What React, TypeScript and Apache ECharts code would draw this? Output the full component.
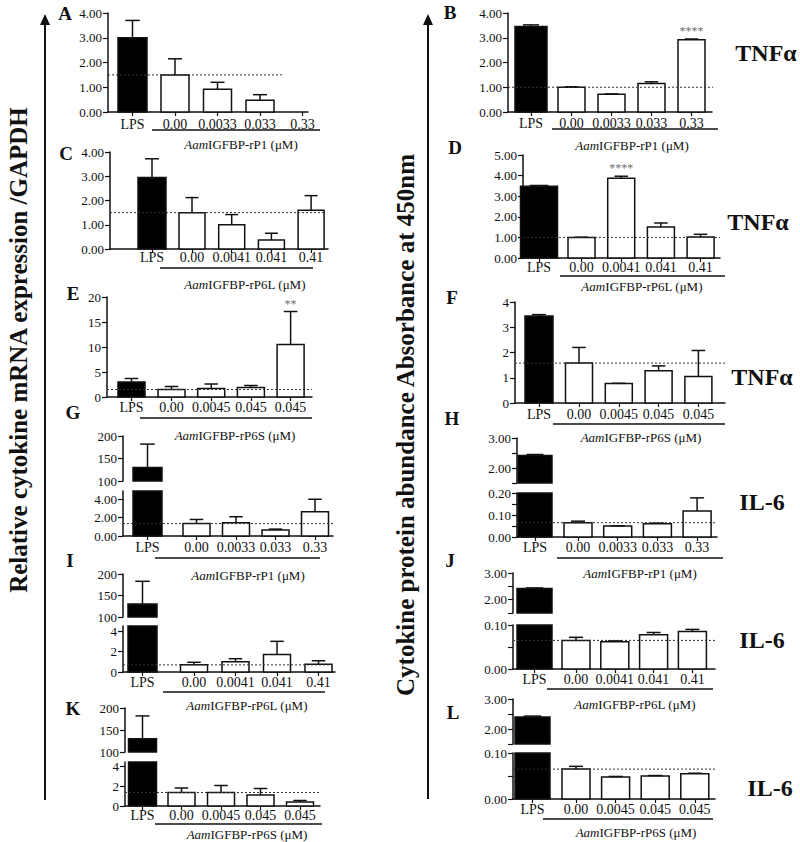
import React, { useEffect, useRef } from "react";
import * as echarts from "echarts";

// ---------- categories ----------
const catsP1 = ["LPS", "0.00", "0.0033", "0.033", "0.33"];
const catsP6L = ["LPS", "0.00", "0.0041", "0.041", "0.41"];
const catsP6S = ["LPS", "0.00", "0.0045", "0.045", "0.045"];

// ---------- means and error-bar tops ----------
const valuesA = [3.0, 1.5, 0.92, 0.47, null];
const errorsA = [3.7, 2.15, 1.2, 0.7, null];
const refA = 1.5;

const valuesB = [3.45, 1.0, 0.72, 1.15, 2.92];
const errorsB = [3.52, 1.02, 0.73, 1.22, 2.95];
const refB = 1.0;
const sigB = ["", "", "", "", "****"];

const valuesC = [2.95, 1.5, 1.0, 0.37, 1.6];
const errorsC = [3.72, 2.12, 1.42, 0.65, 2.2];
const refC = 1.5;

const valuesD = [3.48, 1.0, 3.87, 1.5, 1.02];
const errorsD = [3.52, 1.01, 3.97, 1.7, 1.15];
const refD = 1.0;
const sigD = ["", "", "****", "", ""];

const valuesE = [3.0, 1.5, 1.7, 1.9, 10.5];
const errorsE = [3.7, 2.1, 2.6, 2.3, 17.1];
const refE = 1.5;
const sigE = ["", "", "", "", "**"];

const valuesF = [3.45, 1.58, 0.77, 1.28, 1.05];
const errorsF = [3.5, 2.2, 0.78, 1.47, 2.08];
const refF = 1.58;

const valuesG = [130, 1.35, 1.45, 0.65, 2.65];
const errorsG = [182, 1.8, 2.1, 0.75, 4.0];
const refG = 1.35;

const valuesH = [2.42, 0.065, 0.05, 0.06, 0.118];
const errorsH = [2.45, 0.072, 0.051, 0.063, 0.178];
const refH = 0.065;

const valuesI = [130, 0.7, 1.0, 1.7, 0.75];
const errorsI = [183, 0.95, 1.3, 3.0, 1.1];
const refI = 0.7;

const valuesJ = [2.42, 0.065, 0.062, 0.078, 0.085];
const errorsJ = [2.44, 0.072, 0.064, 0.083, 0.09];
const refJ = 0.065;

const valuesK = [130, 1.35, 1.35, 1.1, 0.4];
const errorsK = [182, 1.8, 2.05, 1.75, 0.55];
const refK = 1.35;

const valuesL = [2.4, 0.065, 0.048, 0.05, 0.055];
const errorsL = [2.43, 0.071, 0.049, 0.051, 0.056];
const refL = 0.065;

// ---------- tick labels ----------
const ticks0to4 = [0, 1, 2, 3, 4];
const ticks0to5 = [0, 1, 2, 3, 4, 5];
const ticks0to20 = [0, 5, 10, 15, 20];
const ticksBig = [100, 150, 200];
const ticksSmall = [0, 2, 4];
const ticksIL6Top = [2, 3];
const ticksIL6TopMinor = [1.5, 2, 2.5, 3];
const ticksIL6H = [0, 0.1, 0.2];
const ticksIL6HMinor = [0, 0.05, 0.1, 0.15, 0.2];
const ticksIL6 = [0, 0.1];
const ticksIL6Minor = [0, 0.05, 0.1];

const P1 = "IGFBP-rP1";
const P6L = "IGFBP-rP6L";
const P6S = "IGFBP-rP6S";

const SERIF = '"Liberation Serif", "Times New Roman", serif';
const INK = "#111";

type Seg = { top: number; bottom: number; min: number; max: number; labels: number[]; ticks?: number[]; dec: number };
type Panel = {
  cats: string[];
  values: (number | null)[];
  errors: (number | null)[];
  ref: number;
  sig?: string[];
  axisX: number; axisR: number; lpsX: number; x1: number; step: number; barW: number; lpsW: number;
  refEnd: number;
  labelGap: number;
  segs: Seg[];
  letter: string; letterX: number; letterY: number;
  under: number[];
  title: string; titleX: number; titleY: number;
  cyto?: string; cytoX?: number; cytoY?: number;
};

const panels: Panel[] = [
  {
    cats: catsP1, values: valuesA, errors: errorsA, ref: refA,
    axisX: 108, axisR: 308, lpsX: 132.5, x1: 175, step: 42.5, barW: 28, lpsW: 29, refEnd: 282, labelGap: 5,
    segs: [{ top: 13, bottom: 112, min: 0, max: 4, labels: ticks0to4, dec: 2 }],
    letter: "A", letterX: 65, letterY: 13, under: [152, 320, 130], title: P1, titleX: 241, titleY: 144,
  },
  {
    cats: catsP1, values: valuesB, errors: errorsB, ref: refB, sig: sigB,
    axisX: 508, axisR: 712, lpsX: 531, x1: 571.5, step: 40, barW: 27, lpsW: 32, refEnd: 719, labelGap: 4,
    segs: [{ top: 13, bottom: 112, min: 0, max: 4, labels: ticks0to4, dec: 2 }],
    letter: "B", letterX: 450, letterY: 12, under: [552, 718, 129], title: P1, titleX: 632, titleY: 145,
    cyto: "TNFα", cytoX: 766, cytoY: 53,
  },
  {
    cats: catsP6L, values: valuesC, errors: errorsC, ref: refC,
    axisX: 110, axisR: 328, lpsX: 152, x1: 192, step: 39.7, barW: 26, lpsW: 28, refEnd: 326, labelGap: 1,
    segs: [{ top: 152, bottom: 249, min: 0, max: 4, labels: ticks0to4, dec: 2 }],
    letter: "C", letterX: 66, letterY: 153, under: [160, 313, 268], title: P6L, titleX: 245, titleY: 284,
  },
  {
    cats: catsP6L, values: valuesD, errors: errorsD, ref: refD, sig: sigD,
    axisX: 523, axisR: 720, lpsX: 539, x1: 581.5, step: 39.7, barW: 27, lpsW: 37, refEnd: 720, labelGap: 2,
    segs: [{ top: 155, bottom: 258, min: 0, max: 5, labels: ticks0to5, dec: 2 }],
    letter: "D", letterX: 455, letterY: 147, under: [560, 725, 276], title: P6L, titleX: 642, titleY: 286,
    cyto: "TNFα", cytoX: 758, cytoY: 222,
  },
  {
    cats: catsP6S, values: valuesE, errors: errorsE, ref: refE, sig: sigE,
    axisX: 107, axisR: 312, lpsX: 131.5, x1: 171.5, step: 39.7, barW: 27, lpsW: 27, refEnd: 312, labelGap: 3,
    segs: [{ top: 297, bottom: 397, min: 0, max: 20, labels: ticks0to20, dec: 0 }],
    letter: "E", letterX: 73, letterY: 293, under: [140, 312, 418], title: P6S, titleX: 235, titleY: 435,
  },
  {
    cats: catsP6S, values: valuesF, errors: errorsF, ref: refF,
    axisX: 515, axisR: 725, lpsX: 539, x1: 579, step: 39.8, barW: 27, lpsW: 28, refEnd: 725, labelGap: 4,
    segs: [{ top: 302, bottom: 403, min: 0, max: 4, labels: ticks0to4, dec: 0 }],
    letter: "F", letterX: 452, letterY: 297, under: [553, 725, 424], title: P6S, titleX: 641, titleY: 437,
    cyto: "TNFα", cytoX: 762, cytoY: 377,
  },
  {
    cats: catsP1, values: valuesG, errors: errorsG, ref: refG,
    axisX: 123, axisR: 333, lpsX: 147.5, x1: 196.5, step: 39.5, barW: 27, lpsW: 29, refEnd: 333, labelGap: 4,
    segs: [
      { top: 436, bottom: 481, min: 100, max: 200, labels: ticksBig, dec: 0 },
      { top: 491, bottom: 536, min: 0, max: 4.9, labels: ticksSmall, dec: 2 },
    ],
    letter: "G", letterX: 73, letterY: 412, under: [155, 320, 558], title: P1, titleX: 248, titleY: 575,
  },
  {
    cats: catsP1, values: valuesH, errors: errorsH, ref: refH,
    axisX: 517, axisR: 717, lpsX: 535, x1: 578, step: 39.7, barW: 28, lpsW: 34, refEnd: 717, labelGap: 3,
    segs: [
      { top: 438, bottom: 483, min: 1.5, max: 3, labels: ticksIL6Top, ticks: ticksIL6TopMinor, dec: 2 },
      { top: 493, bottom: 537, min: 0, max: 0.2, labels: ticksIL6H, ticks: ticksIL6HMinor, dec: 2 },
    ],
    letter: "H", letterX: 452, letterY: 418, under: [557, 723, 558], title: P1, titleX: 640, titleY: 573,
    cyto: "IL-6", cytoX: 762, cytoY: 502,
  },
  {
    cats: catsP6L, values: valuesI, errors: errorsI, ref: refI,
    axisX: 123, axisR: 335, lpsX: 142.5, x1: 194, step: 41.5, barW: 27, lpsW: 29, refEnd: 335, labelGap: 3,
    segs: [
      { top: 574, bottom: 617, min: 100, max: 200, labels: ticksBig, dec: 0 },
      { top: 626, bottom: 672, min: 0, max: 4.5, labels: ticksSmall, dec: 0 },
    ],
    letter: "I", letterX: 70, letterY: 560, under: [163, 325, 692], title: P6L, titleX: 247, titleY: 705,
  },
  {
    cats: catsP6L, values: valuesJ, errors: errorsJ, ref: refJ,
    axisX: 513, axisR: 715, lpsX: 534.5, x1: 576, step: 38.8, barW: 28, lpsW: 35, refEnd: 715, labelGap: 3,
    segs: [
      { top: 573, bottom: 613, min: 1.5, max: 3, labels: ticksIL6Top, ticks: ticksIL6TopMinor, dec: 2 },
      { top: 625, bottom: 669, min: 0, max: 0.1, labels: ticksIL6, ticks: ticksIL6Minor, dec: 2 },
    ],
    letter: "J", letterX: 450, letterY: 560, under: [547, 713, 689], title: P6L, titleX: 635, titleY: 704,
    cyto: "IL-6", cytoX: 762, cytoY: 640,
  },
  {
    cats: catsP6S, values: valuesK, errors: errorsK, ref: refK,
    axisX: 125, axisR: 320, lpsX: 142.5, x1: 181.5, step: 39.5, barW: 27, lpsW: 28, refEnd: 320, labelGap: 2,
    segs: [
      { top: 708, bottom: 752, min: 100, max: 200, labels: ticksBig, dec: 0 },
      { top: 762, bottom: 806, min: 0, max: 4.4, labels: ticksSmall, dec: 0 },
    ],
    letter: "K", letterX: 73, letterY: 708, under: [155, 322, 824], title: P6S, titleX: 247, titleY: 834,
  },
  {
    cats: catsP6S, values: valuesL, errors: errorsL, ref: refL,
    axisX: 513, axisR: 715, lpsX: 532.5, x1: 576, step: 39.6, barW: 28, lpsW: 35, refEnd: 715, labelGap: 3,
    segs: [
      { top: 699, bottom: 744, min: 1.5, max: 3, labels: ticksIL6Top, ticks: ticksIL6TopMinor, dec: 2 },
      { top: 753, bottom: 799, min: 0, max: 0.1, labels: ticksIL6, ticks: ticksIL6Minor, dec: 2 },
    ],
    letter: "L", letterX: 453, letterY: 712, under: [543, 713, 819], title: P6S, titleX: 636, titleY: 832,
    cyto: "IL-6", cytoX: 770, cytoY: 788,
  },
];

function textEl(x: number, y: number, text: string, size: number, weight: string, extra: any = {}) {
  return {
    type: "text",
    x, y,
    silent: true,
    ...extra,
    style: {
      text,
      fill: INK,
      fontSize: size,
      fontWeight: weight,
      fontFamily: SERIF,
      align: "center",
      verticalAlign: "middle",
      textAlign: "center",
      textVerticalAlign: "middle",
      ...(extra.style || {}),
    },
  };
}

function buildOption() {
  const grid: any[] = [];
  const xAxis: any[] = [];
  const yAxis: any[] = [];
  const series: any[] = [];
  const graphic: any[] = [];
  let k = 0;

  panels.forEach((p) => {
    const toX = (px: number) => 1 + (px - p.x1) / p.step;
    const xs = p.cats.map((_, i) => (i === 0 ? toX(p.lpsX) : i));
    const xmin = toX(p.axisX);
    const xmax = toX(p.axisR);
    const data = p.cats
      .map((_, i) => [xs[i], p.values[i], p.errors[i], i])
      .filter((d) => d[1] !== null && d[1] !== undefined);

    p.segs.forEach((s, si) => {
      const isBottom = si === p.segs.length - 1;
      grid.push({ left: p.axisX, top: s.top, width: p.axisR - p.axisX, height: s.bottom - s.top, containLabel: false });
      xAxis.push({
        type: "value",
        gridIndex: k,
        min: xmin,
        max: xmax,
        show: isBottom,
        axisLine: { show: true, onZero: false, lineStyle: { color: INK, width: 1.5 } },
        axisTick: { show: true, customValues: xs, length: 4, lineStyle: { color: INK, width: 1.2 } },
        axisLabel: {
          customValues: xs,
          formatter: (v: number) => {
            const i = xs.findIndex((x) => Math.abs(x - v) < 1e-6);
            return i >= 0 ? p.cats[i] : "";
          },
          margin: p.labelGap,
          fontSize: 14,
          fontFamily: SERIF,
          color: INK,
        },
        splitLine: { show: false },
      });
      yAxis.push({
        type: "value",
        gridIndex: k,
        min: s.min,
        max: s.max,
        axisLine: { show: true, onZero: false, lineStyle: { color: INK, width: 1.5 } },
        axisTick: { show: true, customValues: s.ticks || s.labels, length: 5, lineStyle: { color: INK, width: 1.2 } },
        axisLabel: {
          customValues: s.labels,
          formatter: (v: number) => Number(v).toFixed(s.dec),
          margin: 6,
          fontSize: 13,
          fontFamily: SERIF,
          color: INK,
        },
        splitLine: { show: false },
      });
      series.push({
        type: "custom",
        xAxisIndex: k,
        yAxisIndex: k,
        silent: true,
        z: 3,
        data,
        renderItem: (params: any, api: any) => {
          const cs = params.coordSys;
          const x = api.value(0);
          const v = api.value(1);
          const e = api.value(2);
          const idx = api.value(3);
          const w = idx === 0 ? p.lpsW : p.barW;
          const pv = api.coord([x, v]);
          const p0 = api.coord([x, 0]);
          const gTop = cs.y;
          const gBot = cs.y + cs.height;
          const top = Math.max(pv[1], gTop);
          const bot = Math.min(p0[1], gBot);
          const children: any[] = [];
          if (bot - top > 0.5) {
            children.push({
              type: "rect",
              shape: { x: pv[0] - w / 2, y: top, width: w, height: bot - top },
              style: { fill: idx === 0 ? "#000" : "#fff", stroke: INK, lineWidth: 1.5 },
            });
          }
          if (!isNaN(e) && e > v && pv[1] >= gTop - 0.1 && pv[1] <= gBot + 0.1) {
            const pe = api.coord([x, e]);
            const ey = Math.max(pe[1], gTop);
            children.push({
              type: "line",
              shape: { x1: pv[0], y1: pv[1], x2: pv[0], y2: ey },
              style: { stroke: INK, lineWidth: 1.5 },
            });
            if (pe[1] >= gTop) {
              const cw = w * 0.5;
              children.push({
                type: "line",
                shape: { x1: pv[0] - cw / 2, y1: ey, x2: pv[0] + cw / 2, y2: ey },
                style: { stroke: INK, lineWidth: 1.5 },
              });
            }
          }
          return { type: "group", children };
        },
      });
      if (isBottom) {
        series.push({
          type: "line",
          xAxisIndex: k,
          yAxisIndex: k,
          silent: true,
          z: 5,
          symbol: "none",
          data: [[xmin, p.ref], [toX(p.refEnd), p.ref]],
          lineStyle: { type: [2, 2], width: 1, color: "#333" },
        });
        if (p.sig) {
          const sigData = p.cats
            .map((_, i) => ({ value: [xs[i], p.errors[i]], sig: p.sig ? p.sig[i] : "" }))
            .filter((d) => d.sig);
          series.push({
            type: "scatter",
            xAxisIndex: k,
            yAxisIndex: k,
            silent: true,
            z: 6,
            symbolSize: 0,
            itemStyle: { color: "#555" },
            data: sigData,
            label: {
              show: true,
              position: "top",
              distance: 2,
              formatter: (prm: any) => prm.data.sig,
              color: "#444",
              fontSize: 12,
              fontFamily: SERIF,
            },
          });
        }
      }
      k++;
    });

    graphic.push(textEl(p.letterX, p.letterY, p.letter, 19, "bold"));
    graphic.push({
      type: "line",
      silent: true,
      shape: { x1: p.under[0], y1: p.under[2], x2: p.under[1], y2: p.under[2] },
      style: { stroke: INK, lineWidth: 1.5 },
    });
    graphic.push({
      type: "text",
      x: p.titleX,
      y: p.titleY,
      silent: true,
      style: {
        text: `{i|Aam}${p.title} (μM)`,
        fill: INK,
        fontSize: 13,
        fontFamily: SERIF,
        align: "center",
        verticalAlign: "middle",
        rich: {
          i: { fontStyle: "italic", fontSize: 13, fontFamily: SERIF, fill: INK, color: INK },
        },
      },
    });
    if (p.cyto) graphic.push(textEl(p.cytoX as number, p.cytoY as number, p.cyto, 24, "bold"));
  });

  // big axis captions and arrows
  graphic.push(textEl(18, 350, "Relative cytokine mRNA expression /GAPDH", 25, "bold", { rotation: Math.PI / 2 }));
  graphic.push(textEl(405, 425, "Cytokine protein abundance Absorbance at 450nm", 25, "bold", { rotation: Math.PI / 2 }));
  [
    { x: 45, y0: 800 },
    { x: 428, y0: 799 },
  ].forEach((a) => {
    graphic.push({ type: "line", silent: true, shape: { x1: a.x, y1: a.y0, x2: a.x, y2: 20 }, style: { stroke: INK, lineWidth: 2 } });
    graphic.push({
      type: "polygon",
      silent: true,
      shape: { points: [[a.x, 14], [a.x - 5, 25], [a.x + 5, 25]] },
      style: { fill: INK },
    });
  });

  return {
    animation: false,
    backgroundColor: "#fff",
    grid,
    xAxis,
    yAxis,
    series,
    graphic,
  };
}

export default function App() {
  const ref = useRef<HTMLDivElement>(null);
  useEffect(() => {
    document.body.style.margin = "0";
    if (!ref.current) return;
    const chart = echarts.init(ref.current, undefined, { renderer: "svg" });
    chart.setOption(buildOption() as any);
    return () => chart.dispose();
  }, []);
  return <div ref={ref} style={{ width: 800, height: 842 }} />;
}
